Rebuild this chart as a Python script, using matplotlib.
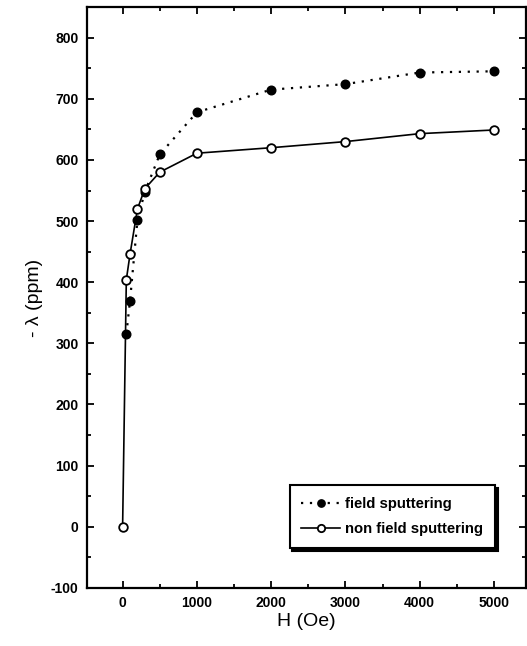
import matplotlib
matplotlib.use('Agg')
import matplotlib.pyplot as plt
from matplotlib.ticker import MultipleLocator

# field values (Oe)
h_field = [50, 100, 200, 300, 500, 1000, 2000, 3000, 4000, 5000]
lam_field = [315, 370, 502, 548, 609, 678, 715, 724, 743, 745]

h_nonfield = [0, 50, 100, 200, 300, 500, 1000, 2000, 3000, 4000, 5000]
lam_nonfield = [0, 404, 446, 520, 553, 580, 611, 620, 630, 643, 649]

x_ticks = [0, 1000, 2000, 3000, 4000, 5000]
y_ticks = [-100, 0, 100, 200, 300, 400, 500, 600, 700, 800]


def main():
  plt.rcParams['font.family'] = ['Liberation Sans', 'DejaVu Sans']
  plt.rcParams['axes.unicode_minus'] = False
  fig = plt.figure(figsize=(5.27, 6.46), dpi=100)
  ax = fig.add_axes([0.165, 0.09, 0.833, 0.899])

  ax.plot(h_field, lam_field, color='k', linestyle=(0, (1, 3)), linewidth=1.6,
          marker='o', markersize=6.2, markerfacecolor='k', markeredgecolor='k',
          label='field sputtering')
  ax.plot(h_nonfield, lam_nonfield, color='k', linestyle='-', linewidth=1.2,
          marker='o', markersize=6.2, markerfacecolor='white', markeredgecolor='k',
          markeredgewidth=1.3, label='non field sputtering')

  ax.set_xlim(-480, 5430)
  ax.set_ylim(-100, 850)
  ax.set_xticks(x_ticks)
  ax.set_yticks(y_ticks)
  ax.xaxis.set_minor_locator(MultipleLocator(500))
  ax.yaxis.set_minor_locator(MultipleLocator(50))
  ax.tick_params(which='both', direction='in', top=True, right=True, width=1.3)
  ax.tick_params(which='major', length=5, labelsize=10, pad=6)
  ax.tick_params(which='minor', length=3)
  for lbl in ax.get_xticklabels() + ax.get_yticklabels():
    lbl.set_fontweight('bold')
  for sp in ax.spines.values():
    sp.set_linewidth(1.6)

  ax.set_xlabel('H (Oe)', fontsize=14, labelpad=2)
  ax.set_ylabel('- \u03bb (ppm)', fontsize=14, labelpad=6)

  leg = ax.legend(loc='lower right', bbox_to_anchor=(0.93, 0.069),
                  fancybox=False, shadow={'color': 'k', 'alpha': 1},
                  edgecolor='k', framealpha=1, handlelength=2.6,
                  handletextpad=0.35, markerscale=0.85,
                  prop={'weight': 'bold', 'size': 10.7}, borderpad=0.8,
                  borderaxespad=0, labelspacing=0.75)
  leg.get_frame().set_linewidth(1.5)

  fig.savefig('out.png', dpi=100)


if __name__ == '__main__':
  main()
